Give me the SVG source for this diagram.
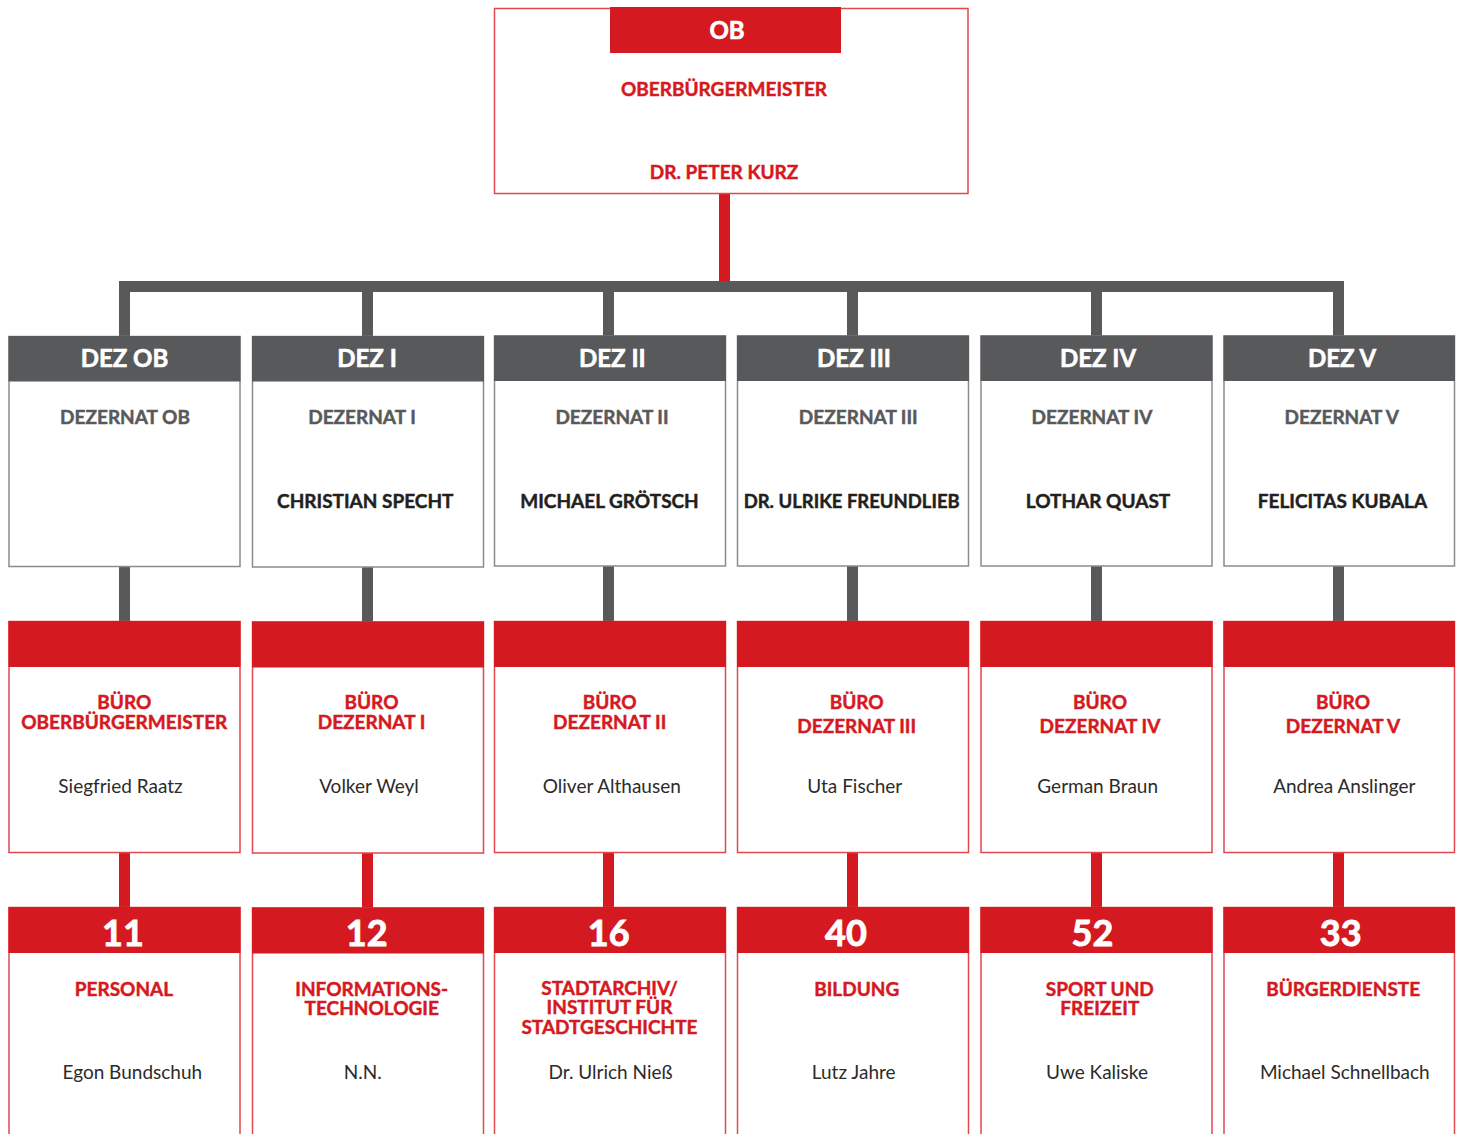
<svg xmlns="http://www.w3.org/2000/svg" width="1461" height="1134" viewBox="0 0 1461 1134">
<style>
text{font-family:"Lato","Open Sans","Liberation Sans",sans-serif;text-anchor:middle}
.hw{font-weight:700;font-size:24px;fill:#fff;stroke:#fff;stroke-width:0.6}
.num{font-weight:700;font-size:36px;fill:#fff;stroke:#fff;stroke-width:0.9}
.rt{font-weight:700;font-size:19px;fill:#d51920;stroke:#d51920;stroke-width:0.45}
.gt{font-weight:700;font-size:19px;fill:#58595b;stroke:#58595b;stroke-width:0.45}
.dt{font-weight:700;font-size:19px;fill:#231f20;stroke:#231f20;stroke-width:0.45}
.nm{font-weight:400;font-size:19px;fill:#2b2b2b}
.boxr{fill:#fff;stroke:#e2474e;stroke-width:1.5}
.boxg{fill:#fff;stroke:#8c8c8e;stroke-width:1.5}
.hr{fill:#d51920}
.hg{fill:#58595b}
.cg{fill:#58595b}
.cr{fill:#d51920}
</style>
<rect width="1461" height="1134" fill="#fff"/>
<g id="connectors">
<rect class="cr" x="719" y="194" width="11" height="88"/>
<rect class="cg" x="119" y="281" width="1225" height="11"/>
<rect class="cg" x="119" y="281" width="11" height="56"/>
<rect class="cg" x="362" y="281" width="11" height="56"/>
<rect class="cg" x="603" y="281" width="11" height="56"/>
<rect class="cg" x="847" y="281" width="11" height="56"/>
<rect class="cg" x="1091" y="281" width="11" height="56"/>
<rect class="cg" x="1333" y="281" width="11" height="56"/>
<rect class="cg" x="119" y="566" width="11" height="56"/>
<rect class="cg" x="362" y="566" width="11" height="56"/>
<rect class="cg" x="603" y="566" width="11" height="56"/>
<rect class="cg" x="847" y="566" width="11" height="56"/>
<rect class="cg" x="1091" y="566" width="11" height="56"/>
<rect class="cg" x="1333" y="566" width="11" height="56"/>
<rect class="cr" x="119" y="852" width="11" height="56"/>
<rect class="cr" x="362" y="852" width="11" height="56"/>
<rect class="cr" x="603" y="852" width="11" height="56"/>
<rect class="cr" x="847" y="852" width="11" height="56"/>
<rect class="cr" x="1091" y="852" width="11" height="56"/>
<rect class="cr" x="1333" y="852" width="11" height="56"/>
</g>
<g id="ob">
<rect class="boxr" x="494.5" y="8.5" width="473.5" height="185"/>
<rect class="hr" x="610" y="7" width="231" height="46"/>
<text class="hw" x="727" y="39">OB</text>
<text class="rt" x="724" y="95.5">OBERBÜRGERMEISTER</text>
<text class="rt" x="724" y="179">DR. PETER KURZ</text>
</g>
<g id="dez-ob">
<rect class="boxg" x="9" y="336.5" width="231" height="230"/>
<rect class="hg" x="8.5" y="336" width="232" height="45.5"/>
<text class="hw" x="124.5" y="367">DEZ OB</text>
<text class="gt" x="125" y="424">DEZERNAT OB</text>
</g>
<g id="dez-1">
<rect class="boxg" x="252.5" y="336.5" width="231" height="230.5"/>
<rect class="hg" x="252" y="336" width="232" height="45.5"/>
<text class="hw" x="367" y="367">DEZ I</text>
<text class="gt" x="362" y="424">DEZERNAT I</text>
<text class="dt" x="365.3" y="508">CHRISTIAN SPECHT</text>
</g>
<g id="dez-2">
<rect class="boxg" x="494.5" y="336" width="231" height="230"/>
<rect class="hg" x="494" y="335.5" width="232" height="45.5"/>
<text class="hw" x="612.3" y="366.5">DEZ II</text>
<text class="gt" x="612" y="423.5">DEZERNAT II</text>
<text class="dt" x="609.5" y="507.5">MICHAEL GRÖTSCH</text>
</g>
<g id="dez-3">
<rect class="boxg" x="737.5" y="336" width="231" height="230"/>
<rect class="hg" x="737" y="335.5" width="232" height="45.5"/>
<text class="hw" x="854" y="366.5">DEZ III</text>
<text class="gt" x="858.3" y="423.5">DEZERNAT III</text>
<text class="dt" x="851.7" y="507.5" textLength="216" lengthAdjust="spacingAndGlyphs">DR. ULRIKE FREUNDLIEB</text>
</g>
<g id="dez-4">
<rect class="boxg" x="981" y="336" width="231" height="230"/>
<rect class="hg" x="980.5" y="335.5" width="232" height="45.5"/>
<text class="hw" x="1098" y="366.5">DEZ IV</text>
<text class="gt" x="1092" y="423.5">DEZERNAT IV</text>
<text class="dt" x="1098" y="507.5">LOTHAR QUAST</text>
</g>
<g id="dez-5">
<rect class="boxg" x="1224" y="336" width="230.5" height="230"/>
<rect class="hg" x="1223.5" y="335.5" width="231.5" height="45.5"/>
<text class="hw" x="1342" y="366.5">DEZ V</text>
<text class="gt" x="1341.8" y="423.5">DEZERNAT V</text>
<text class="dt" x="1342.5" y="507.5">FELICITAS KUBALA</text>
</g>
<g id="buero-ob">
<rect class="boxr" x="9" y="621.5" width="231" height="231"/>
<rect class="hr" x="8.5" y="621" width="232" height="46"/>
<text class="rt"><tspan x="124.3" y="709">BÜRO</tspan><tspan x="124.3" y="729">OBERBÜRGERMEISTER</tspan></text>
<text class="nm" x="120.5" y="793">Siegfried Raatz</text>
</g>
<g id="buero-1">
<rect class="boxr" x="252.5" y="622" width="231" height="231"/>
<rect class="hr" x="252" y="621.5" width="232" height="46"/>
<text class="rt"><tspan x="371.5" y="709">BÜRO</tspan><tspan x="371.5" y="729">DEZERNAT I</tspan></text>
<text class="nm" x="369" y="793">Volker Weyl</text>
</g>
<g id="buero-2">
<rect class="boxr" x="494.5" y="621.5" width="231" height="231"/>
<rect class="hr" x="494" y="621" width="232" height="46"/>
<text class="rt"><tspan x="609.7" y="709">BÜRO</tspan><tspan x="609.7" y="729">DEZERNAT II</tspan></text>
<text class="nm" x="611.8" y="793">Oliver Althausen</text>
</g>
<g id="buero-3">
<rect class="boxr" x="737.5" y="621.5" width="231" height="231"/>
<rect class="hr" x="737" y="621" width="232" height="46"/>
<text class="rt"><tspan x="856.7" y="709">BÜRO</tspan><tspan x="856.7" y="733">DEZERNAT III</tspan></text>
<text class="nm" x="854.8" y="793">Uta Fischer</text>
</g>
<g id="buero-4">
<rect class="boxr" x="981" y="621.5" width="231" height="231"/>
<rect class="hr" x="980.5" y="621" width="232" height="46"/>
<text class="rt"><tspan x="1100" y="709">BÜRO</tspan><tspan x="1100" y="733">DEZERNAT IV</tspan></text>
<text class="nm" x="1097.7" y="793">German Braun</text>
</g>
<g id="buero-5">
<rect class="boxr" x="1224" y="621.5" width="230.5" height="231"/>
<rect class="hr" x="1223.5" y="621" width="231.5" height="46"/>
<text class="rt"><tspan x="1343" y="709">BÜRO</tspan><tspan x="1343" y="733">DEZERNAT V</tspan></text>
<text class="nm" x="1344.3" y="793">Andrea Anslinger</text>
</g>
<g id="amt-11">
<rect class="boxr" x="9" y="907.5" width="231" height="260"/>
<rect class="hr" x="8.5" y="907" width="232" height="46"/>
<text class="num" x="123" y="946">11</text>
<text class="rt" x="124" y="995.5">PERSONAL</text>
<text class="nm" x="132.3" y="1079">Egon Bundschuh</text>
</g>
<g id="amt-12">
<rect class="boxr" x="252.5" y="908" width="231" height="260"/>
<rect class="hr" x="252" y="907.5" width="232" height="46"/>
<text class="num" x="366.7" y="946">12</text>
<text class="rt"><tspan x="371.7" y="995.5">INFORMATIONS-</tspan><tspan x="371.7" y="1015">TECHNOLOGIE</tspan></text>
<text class="nm" x="362.7" y="1079">N.N.</text>
</g>
<g id="amt-16">
<rect class="boxr" x="494.5" y="907.5" width="231" height="260"/>
<rect class="hr" x="494" y="907" width="232" height="46"/>
<text class="num" x="608.7" y="946">16</text>
<text class="rt"><tspan x="609.5" y="995">STADTARCHIV/</tspan><tspan x="609.5" y="1014">INSTITUT FÜR</tspan><tspan x="609.5" y="1034">STADTGESCHICHTE</tspan></text>
<text class="nm" x="610.5" y="1079">Dr. Ulrich Nieß</text>
</g>
<g id="amt-40">
<rect class="boxr" x="737.5" y="907.5" width="231" height="260"/>
<rect class="hr" x="737" y="907" width="232" height="46"/>
<text class="num" x="846" y="946">40</text>
<text class="rt" x="856.7" y="995.5">BILDUNG</text>
<text class="nm" x="853.7" y="1079">Lutz Jahre</text>
</g>
<g id="amt-52">
<rect class="boxr" x="981" y="907.5" width="231" height="260"/>
<rect class="hr" x="980.5" y="907" width="232" height="46"/>
<text class="num" x="1092.5" y="946">52</text>
<text class="rt"><tspan x="1099.8" y="995.5">SPORT UND</tspan><tspan x="1099.8" y="1015">FREIZEIT</tspan></text>
<text class="nm" x="1097" y="1079">Uwe Kaliske</text>
</g>
<g id="amt-33">
<rect class="boxr" x="1224" y="907.5" width="230.5" height="260"/>
<rect class="hr" x="1223.5" y="907" width="231.5" height="46"/>
<text class="num" x="1340.7" y="946">33</text>
<text class="rt" x="1343.2" y="995.5">BÜRGERDIENSTE</text>
<text class="nm" x="1344.8" y="1079">Michael Schnellbach</text>
</g>
</svg>
